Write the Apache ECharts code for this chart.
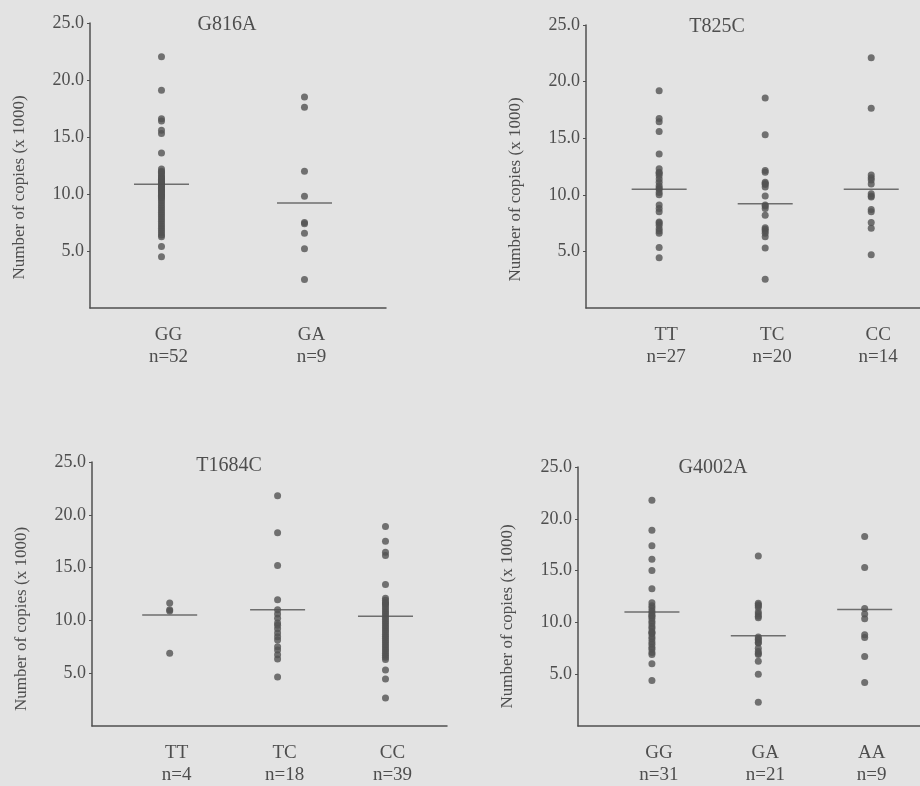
<!DOCTYPE html>
<html>
<head>
<meta charset="utf-8">
<script src="https://cdn.jsdelivr.net/npm/echarts@6/dist/echarts.min.js"></script>
<style>
html,body{margin:0;padding:0;background:#e3e3e3;}
#c{width:920px;height:786px;}
</style>
</head>
<body>
<div id="c"></div>
<script>
// ---------- data ----------
var yTicks = [5, 10, 15, 20, 25];

var p1Title = 'G816A';
var p1Cats = ['GG', 'GA'];
var p1N = [52, 9];
var p1Means = [10.85, 9.2];
var p1GG = [22.05, 19.1, 16.6, 16.4, 15.6, 15.3, 13.6, 5.4, 4.5,
  12.2, 12.0, 11.8, 11.6, 11.5, 11.4, 11.3, 11.2, 11.1, 11.0,
  10.9, 10.8, 10.7, 10.6, 10.5, 10.4, 10.3, 10.2, 10.0, 9.9,
  9.8, 9.6, 9.4, 9.2, 9.0, 8.8, 8.6, 8.4, 8.2, 8.0,
  7.8, 7.6, 7.4, 7.2, 7.0, 6.8, 6.6, 6.4, 6.25, 10.1, 9.7, 11.9, 10.95];
var p1GA = [18.5, 17.6, 12.0, 9.8, 7.5, 6.55, 5.2, 2.5, 7.4];

var p2Title = 'T825C';
var p2Cats = ['TT', 'TC', 'CC'];
var p2N = [27, 20, 14];
var p2Means = [10.5, 9.2, 10.5];
var p2TT = [19.2, 16.75, 16.45, 15.6, 13.6, 12.3, 12.0, 11.9, 11.7, 11.4, 11.1, 10.8, 10.6, 10.5,
  10.2, 10.0, 9.1, 8.8, 8.5, 7.6, 7.5, 7.3, 7.0, 6.8, 6.6, 5.35, 4.45];
var p2TC = [18.55, 15.3, 12.15, 12.0, 11.1, 11.0, 10.9, 10.7, 9.9, 9.1, 9.0, 8.8, 8.2,
  7.1, 6.95, 6.8, 6.6, 6.3, 5.3, 2.55];
var p2CC = [22.1, 17.65, 11.75, 11.5, 11.3, 10.95, 10.1, 9.9, 9.8, 8.7, 8.5, 7.55, 7.05, 4.7];

var p3Title = 'T1684C';
var p3Cats = ['TT', 'TC', 'CC'];
var p3N = [4, 18, 39];
var p3Means = [10.5, 11.0, 10.4];
var p3TT = [11.65, 11.0, 10.9, 6.9];
var p3TC = [21.8, 18.3, 15.2, 11.95, 11.0, 10.6, 10.2, 9.75, 9.55, 9.2, 8.8, 8.45, 8.15,
  7.5, 7.2, 6.75, 6.35, 4.65];
var p3CC = [18.9, 17.5, 16.45, 16.15, 13.4, 5.3, 4.45, 2.65,
  12.1, 11.9, 11.7, 11.5, 11.3, 11.1, 10.9, 10.7, 10.5, 10.3, 10.1, 9.9, 9.7, 9.5, 9.3, 9.1,
  8.9, 8.7, 8.5, 8.3, 8.1, 7.9, 7.7, 7.5, 7.3, 7.1, 6.9, 6.7, 6.5, 6.3, 11.6];

var p4Title = 'G4002A';
var p4Cats = ['GG', 'GA', 'AA'];
var p4N = [31, 21, 9];
var p4Means = [11.0, 8.7, 11.25];
var p4GG = [21.8, 18.9, 17.4, 16.1, 15.0, 13.25, 6.0, 4.4,
  11.9, 11.6, 11.4, 11.1, 10.9, 10.6, 10.4, 10.1, 9.9, 9.6, 9.4, 9.1, 8.9, 8.6, 8.4, 8.1,
  7.9, 7.6, 7.4, 7.1, 6.9, 10.7, 9.0];
var p4GA = [16.4, 11.85, 11.7, 11.6, 11.45, 11.0, 10.8, 10.6, 10.45, 8.6, 8.4, 8.3, 8.05,
  8.0, 7.5, 7.2, 7.0, 6.9, 6.25, 5.0, 2.3];
var p4AA = [18.3, 15.3, 11.35, 10.8, 10.35, 8.8, 8.55, 6.7, 4.2];

var yName = 'Number of copies (x 1000)';

// ---------- layout ----------
var panels = [
  {title: p1Title, cats: p1Cats, n: p1N, means: p1Means, groups: [p1GG, p1GA],
   grid: {left: 90, top: 23, width: 296, height: 285}, xr: [-0.5, 1.57], tx: 222, ty: 10, nameShift: 44},
  {title: p2Title, cats: p2Cats, n: p2N, means: p2Means, groups: [p2TT, p2TC, p2CC],
   grid: {left: 586, top: 25, width: 334, height: 283}, xr: [-0.69, 2.46], tx: 712, ty: 12, nameShift: 46},
  {title: p3Title, cats: p3Cats, n: p3N, means: p3Means, groups: [p3TT, p3TC, p3CC],
   grid: {left: 92, top: 462, width: 355, height: 269}, xr: [-0.72, 2.57], tx: 224, ty: 451, nameShift: 50},
  {title: p4Title, cats: p4Cats, n: p4N, means: p4Means, groups: [p4GG, p4GA, p4AA],
   grid: {left: 578, top: 467, width: 342, height: 264}, xr: [-0.695, 2.52], tx: 708, ty: 453, nameShift: 40}
];

var FONT = 'Liberation Serif';
var TXT = '#4e4e4e';
var DOT = '#525252';

var option = {
  backgroundColor: '#e3e3e3',
  animation: false,
  title: [], grid: [], xAxis: [], yAxis: [], series: []
};

panels.forEach(function (p, k) {
  option.title.push({
    text: p.title, left: p.tx, top: p.ty, textAlign: 'center',
    textStyle: {fontFamily: FONT, fontSize: 20, fontWeight: 'normal', color: TXT}
  });
  option.grid.push(Object.assign({containLabel: false}, p.grid));
  option.xAxis.push({
    type: 'value', gridIndex: k, min: p.xr[0], max: p.xr[1],
    splitLine: {show: false},
    axisTick: {show: false},
    axisLine: {onZero: false, lineStyle: {color: '#505050', width: 1.5}},
    axisLabel: {
      customValues: p.cats.map(function (c, i) { return i; }),
      formatter: function (v) {
        var i = Math.round(v);
        return p.cats[i] + '\nn=' + p.n[i];
      },
      margin: 16, fontFamily: FONT, fontSize: 19, lineHeight: 22, color: TXT,
      padding: [0, 0, 0, 14]
    }
  });
  option.yAxis.push({
    type: 'value', gridIndex: k, min: 0, max: 25, interval: 5,
    splitLine: {show: false},
    axisLine: {show: true, onZero: false, lineStyle: {color: '#505050', width: 1.5}},
    axisTick: {show: true, length: 3, customValues: yTicks, lineStyle: {color: '#505050'}},
    axisLabel: {
      customValues: yTicks,
      formatter: function (v) { return v.toFixed(1); },
      margin: 6, fontFamily: FONT, fontSize: 18, color: TXT
    },
    name: yName, nameLocation: 'middle', nameGap: 62,
    nameTextStyle: {fontFamily: FONT, fontSize: 17, color: TXT, padding: [0, p.nameShift, 0, 0]}
  });
  var pts = [];
  p.groups.forEach(function (g, i) {
    g.forEach(function (v) { pts.push([i, v]); });
  });
  option.series.push({
    type: 'scatter', xAxisIndex: k, yAxisIndex: k, data: pts,
    symbol: 'circle', symbolSize: 7, itemStyle: {color: DOT}, silent: true
  });
  option.series.push({
    type: 'scatter', xAxisIndex: k, yAxisIndex: k,
    data: p.means.map(function (m, i) { return [i, m]; }),
    symbol: 'rect', symbolSize: [55, 1.5], itemStyle: {color: '#505050'}, silent: true, z: 3
  });
});

var chart = echarts.init(document.getElementById('c'), null, {renderer: 'canvas'});
chart.setOption(option);
</script>
</body>
</html>
